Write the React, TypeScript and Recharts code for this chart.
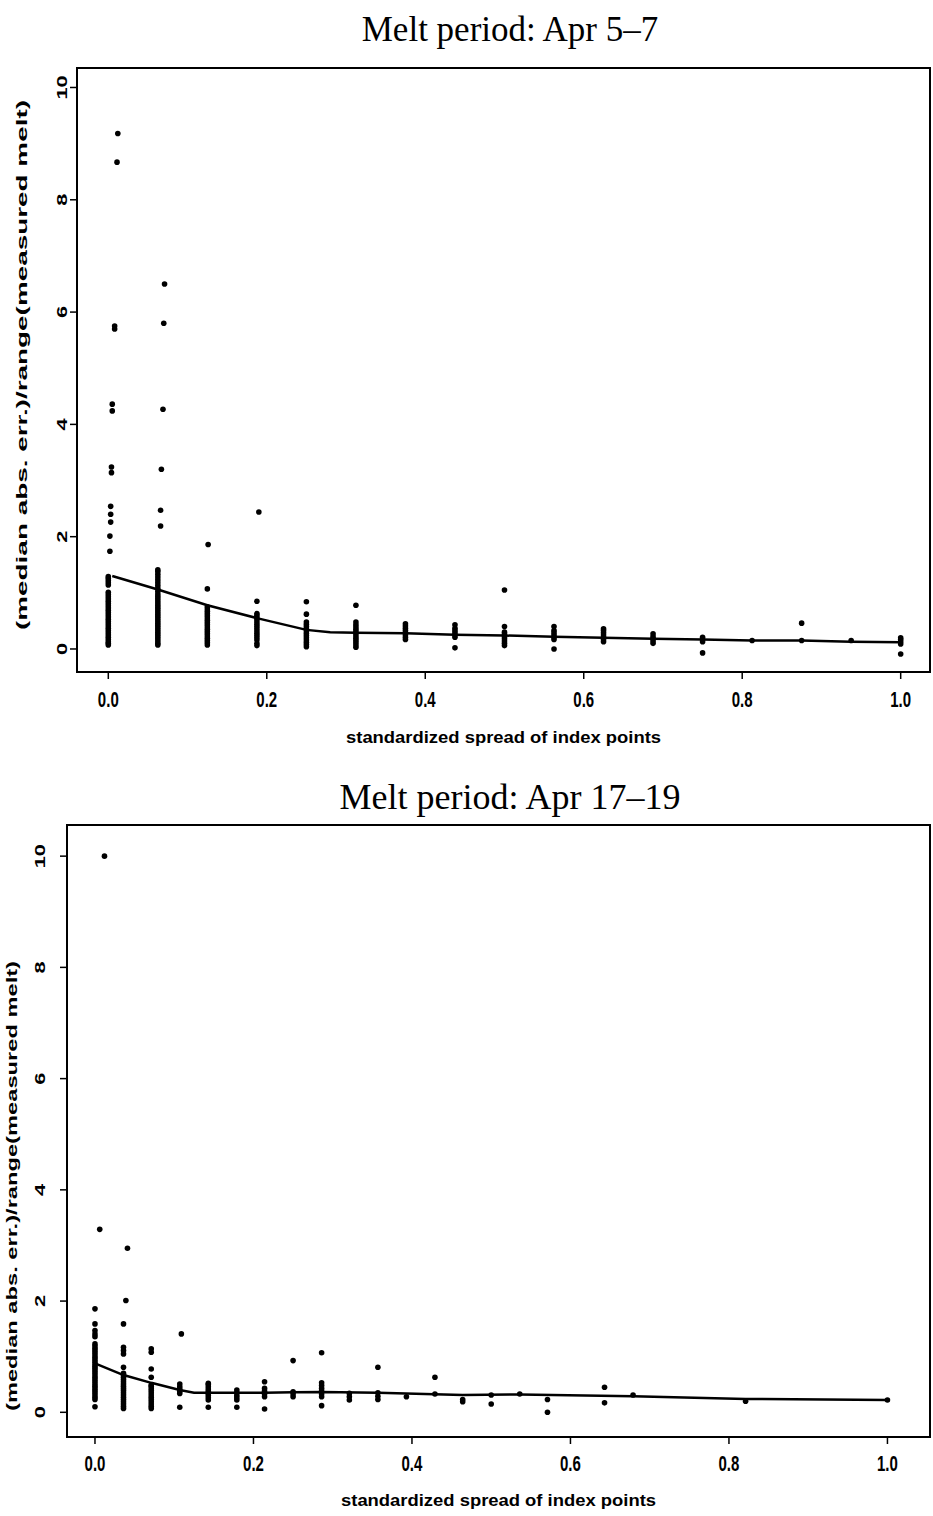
import { ReferenceArea, Scatter, ScatterChart, XAxis, YAxis } from "recharts"

const SANS = '"Liberation Sans", Arial, sans-serif'
const SERIF = '"Liberation Serif", "Times New Roman", serif'

const SPREAD_TICKS = [0, 0.2, 0.4, 0.6, 0.8, 1.0]
const ERR_TICKS = [0, 2, 4, 6, 8, 10]
const Y_TITLE = "(median abs. err.)/range(measured melt)"
const X_TITLE = "standardized spread of index points"

// ---- Melt period: Apr 5-7 ----
const APR5_SPREAD = [
  0, 0.0625, 0.125, 0.1875, 0.25, 0.3125, 0.375, 0.4375, 0.5, 0.5625, 0.625,
  0.6875, 0.75, 0.8125, 0.875, 0.9375, 1,
]
const APR5_ERR = [
  [0.07, 0.1, 0.13, 0.17, 0.21, 0.25, 0.29, 0.33, 0.37, 0.41, 0.45, 0.49, 0.53, 0.57, 0.61, 0.65, 0.69, 0.73, 0.77, 0.81, 0.85, 0.89, 0.93, 0.97, 1.01, 1.14, 1.18, 1.22, 1.26, 1.29],
  [0.07, 0.1, 0.14, 0.18, 0.22, 0.26, 0.3, 0.34, 0.38, 0.42, 0.46, 0.5, 0.54, 0.58, 0.62, 0.66, 0.7, 0.74, 0.78, 0.82, 0.86, 0.9, 0.94, 0.98, 1.03, 1.08, 1.13, 1.18, 1.23, 1.28, 1.33, 1.38, 1.41],
  [0.07, 0.11, 0.15, 0.19, 0.23, 0.27, 0.31, 0.35, 0.39, 0.43, 0.47, 0.51, 0.55, 0.59, 0.63, 0.67, 0.71, 0.75, 1.07],
  [0.06, 0.1, 0.16, 0.2, 0.24, 0.28, 0.32, 0.36, 0.4, 0.44, 0.48, 0.52, 0.56, 0.6, 0.63, 0.85],
  [0.04, 0.08, 0.12, 0.16, 0.2, 0.24, 0.28, 0.32, 0.36, 0.4, 0.44, 0.48, 0.62, 0.84],
  [0.03, 0.07, 0.11, 0.15, 0.19, 0.23, 0.27, 0.31, 0.35, 0.39, 0.43, 0.48, 0.78],
  [0.17, 0.21, 0.25, 0.29, 0.33, 0.37, 0.41, 0.45],
  [0.02, 0.21, 0.25, 0.29, 0.33, 0.37, 0.43],
  [0.06, 0.1, 0.14, 0.18, 0.22, 0.26, 0.3, 0.4, 1.05],
  [0.0, 0.17, 0.21, 0.25, 0.29, 0.33, 0.4],
  [0.13, 0.17, 0.21, 0.25, 0.29, 0.33, 0.36],
  [0.1, 0.14, 0.18, 0.22, 0.27],
  [-0.07, 0.13, 0.17, 0.21],
  [0.15],
  [0.15, 0.46],
  [0.15],
  [-0.09, 0.09, 0.13, 0.17, 0.2],
]
const APR5_HIGH_X = [0.012, 0.011, 0.008, 0.008, 0.005, 0.005, 0.004, 0.004, 0.003, 0.003, 0.003, 0.002, 0.002, 0.071, 0.07, 0.069, 0.067, 0.066, 0.066, 0.126, 0.19]
const APR5_HIGH_Y = [9.18, 8.67, 5.75, 5.7, 4.36, 4.24, 3.24, 3.14, 2.54, 2.4, 2.26, 2.01, 1.74, 6.5, 5.8, 4.27, 3.2, 2.47, 2.19, 1.86, 2.44]
const APR5_FIT_X = [0.005, 0.0625, 0.125, 0.1875, 0.25, 0.28, 0.3125, 0.375, 0.4375, 0.5, 0.5625, 0.625, 0.6875, 0.75, 0.8125, 0.875, 0.9375, 1]
const APR5_FIT_Y = [1.3, 1.06, 0.78, 0.55, 0.34, 0.3, 0.29, 0.28, 0.255, 0.24, 0.22, 0.2, 0.18, 0.17, 0.15, 0.15, 0.13, 0.12]

// ---- Melt period: Apr 17-19 ----
const APR17_SPREAD = [
  0, 0.036, 0.071, 0.107, 0.143, 0.179, 0.214, 0.25, 0.286, 0.321, 0.357,
  0.393, 0.429, 0.464, 0.5, 0.536, 0.571, 0.643, 0.679, 0.821, 1,
]
const APR17_ERR = [
  [0.1, 0.23, 0.27, 0.31, 0.35, 0.39, 0.43, 0.47, 0.51, 0.55, 0.59, 0.63, 0.67, 0.71, 0.75, 0.79, 0.83, 0.87, 0.91, 0.95, 0.99, 1.03, 1.07, 1.11, 1.15, 1.19, 1.23, 1.36, 1.41, 1.47, 1.59, 1.86],
  [0.07, 0.11, 0.15, 0.19, 0.23, 0.27, 0.31, 0.35, 0.39, 0.43, 0.47, 0.51, 0.55, 0.59, 0.63, 0.67, 0.7, 0.81, 1.05, 1.11, 1.17, 1.59],
  [0.07, 0.11, 0.15, 0.19, 0.23, 0.27, 0.31, 0.35, 0.39, 0.43, 0.47, 0.49, 0.63, 0.78, 1.08, 1.14],
  [0.09, 0.34, 0.38, 0.42, 0.46, 0.51],
  [0.09, 0.22, 0.26, 0.3, 0.34, 0.38, 0.42, 0.46, 0.5, 0.52],
  [0.09, 0.22, 0.26, 0.3, 0.35, 0.4],
  [0.06, 0.28, 0.33, 0.38, 0.43, 0.55],
  [0.28, 0.33, 0.37, 0.93],
  [0.12, 0.28, 0.33, 0.38, 0.43, 0.48, 0.53, 1.07],
  [0.22, 0.28, 0.34],
  [0.23, 0.29, 0.35, 0.81],
  [0.28],
  [0.33, 0.63],
  [0.19, 0.23],
  [0.15, 0.31],
  [0.33],
  [0.0, 0.23],
  [0.17, 0.45],
  [0.31],
  [0.2],
  [0.22],
]
const APR17_HIGH_X = [0.012, 0.006, 0.041, 0.039, 0.109]
const APR17_HIGH_Y = [10.0, 3.29, 2.95, 2.01, 1.41]
const APR17_FIT_X = [0, 0.036, 0.071, 0.107, 0.125, 0.143, 0.179, 0.214, 0.25, 0.286, 0.357, 0.464, 0.536, 0.679, 0.821, 1]
const APR17_FIT_Y = [0.88, 0.67, 0.53, 0.4, 0.35, 0.35, 0.35, 0.35, 0.36, 0.365, 0.35, 0.31, 0.32, 0.29, 0.24, 0.22]

type Pt = { x: number; y: number }

function toPoints(spread: number[], err: number[][], hx: number[], hy: number[]): Pt[] {
  const pts: Pt[] = []
  spread.forEach((x, i) => err[i].forEach((y) => pts.push({ x, y })))
  hx.forEach((x, i) => pts.push({ x, y: hy[i] }))
  return pts
}

function toLine(xs: number[], ys: number[]): Pt[] {
  return xs.map((x, i) => ({ x, y: ys[i] }))
}

type PanelProps = {
  top: number
  title: string
  titleTop: number
  titleSize: number
  plot: { left: number; right: number; top: number; bottom: number }
  xDomain: [number, number]
  yDomain: [number, number]
  points: Pt[]
  fit: Pt[]
  xTickY: number
  xTitleY: number
  yTickX: number
  yTitleX: number
  yTitleY: number
  yTitleLength: number
}

const Dot = (p: any) => <circle cx={p.cx} cy={p.cy} r={2.8} fill="#000" />
const NoDot = () => <g />

function Panel(props: PanelProps) {
  const { plot, xDomain, yDomain } = props
  const height = 758
  const cx = (plot.left + plot.right) / 2
  return (
    <div style={{ position: "absolute", left: 0, top: props.top, width: 933, height }}>
      <ScatterChart
        width={933}
        height={height}
        margin={{ top: plot.top, right: 933 - plot.right, left: 0, bottom: 0 }}
      >
        <XAxis
          type="number"
          dataKey="x"
          domain={xDomain}
          allowDataOverflow
          ticks={SPREAD_TICKS}
          height={height - plot.bottom}
          axisLine={false}
          tickLine={{ stroke: "#000", strokeWidth: 1.5 }}
          tickSize={7}
          tick={(t: any) => (
            <text
              transform={`translate(${t.x},${props.xTickY}) scale(1,1.45)`}
              textAnchor="middle"
              dominantBaseline="central"
              fontFamily={SANS}
              fontWeight="bold"
              fontSize={15}
              fill="#000"
            >
              {Number(t.payload.value).toFixed(1)}
            </text>
          )}
          label={{
            content: () => (
              <text
                transform={`translate(${cx},${props.xTitleY}) scale(1,1.45)`}
                textAnchor="middle"
                dominantBaseline="central"
                fontFamily={SANS}
                fontWeight="bold"
                fontSize={12}
                textLength={315}
                lengthAdjust="spacingAndGlyphs"
                fill="#000"
              >
                {X_TITLE}
              </text>
            ),
          }}
        />
        <YAxis
          type="number"
          dataKey="y"
          domain={yDomain}
          allowDataOverflow
          ticks={ERR_TICKS}
          width={plot.left}
          axisLine={false}
          tickLine={{ stroke: "#000", strokeWidth: 1.5 }}
          tickSize={7}
          tick={(t: any) => (
            <text
              transform={`translate(${props.yTickX},${t.y}) rotate(-90) scale(1.45,1)`}
              textAnchor="middle"
              dominantBaseline="central"
              fontFamily={SANS}
              fontWeight="bold"
              fontSize={15}
              fill="#000"
            >
              {t.payload.value}
            </text>
          )}
          label={{
            content: () => (
              <text
                transform={`translate(${props.yTitleX},${props.yTitleY}) rotate(-90)`}
                textAnchor="middle"
                dominantBaseline="central"
                fontFamily={SANS}
                fontWeight="bold"
                fontSize={14}
                textLength={props.yTitleLength}
                lengthAdjust="spacingAndGlyphs"
                fill="#000"
              >
                {Y_TITLE}
              </text>
            ),
          }}
        />
        <ReferenceArea
          x1={xDomain[0]}
          x2={xDomain[1]}
          y1={yDomain[0]}
          y2={yDomain[1]}
          fill="none"
          stroke="#000"
          strokeWidth={2}
          ifOverflow="visible"
        />
        <Scatter data={props.points} shape={Dot} isAnimationActive={false} />
        <Scatter
          data={props.fit}
          shape={NoDot}
          line={{ stroke: "#000", strokeWidth: 2.5 }}
          lineType="joint"
          isAnimationActive={false}
        />
      </ScatterChart>
      <div
        style={{
          position: "absolute",
          left: 210,
          width: 600,
          top: props.titleTop,
          textAlign: "center",
          fontFamily: SERIF,
          fontSize: props.titleSize,
          lineHeight: "40px",
          color: "#000",
        }}
      >
        {props.title}
      </div>
    </div>
  )
}

export default function App() {
  return (
    <div
      style={{
        position: "absolute",
        left: 0,
        top: 0,
        width: 933,
        height: 1516,
        background: "#fff",
      }}
    >
      <Panel
        top={0}
        title="Melt period: Apr 5–7"
        titleTop={10}
        titleSize={35}
        plot={{ left: 77, right: 930, top: 68, bottom: 672 }}
        xDomain={[-0.0395, 1.037]}
        yDomain={[-0.41, 10.347]}
        points={toPoints(APR5_SPREAD, APR5_ERR, APR5_HIGH_X, APR5_HIGH_Y)}
        fit={toLine(APR5_FIT_X, APR5_FIT_Y)}
        xTickY={699}
        xTitleY={737}
        yTickX={62}
        yTitleX={22}
        yTitleY={365}
        yTitleLength={530}
      />
      <Panel
        top={758}
        title="Melt period: Apr 17–19"
        titleTop={19}
        titleSize={36}
        plot={{ left: 67, right: 930, top: 67, bottom: 679 }}
        xDomain={[-0.0353, 1.0537]}
        yDomain={[-0.444, 10.56]}
        points={toPoints(APR17_SPREAD, APR17_ERR, APR17_HIGH_X, APR17_HIGH_Y)}
        fit={toLine(APR17_FIT_X, APR17_FIT_Y)}
        xTickY={705}
        xTitleY={742}
        yTickX={40}
        yTitleX={12}
        yTitleY={428}
        yTitleLength={450}
      />
    </div>
  )
}
